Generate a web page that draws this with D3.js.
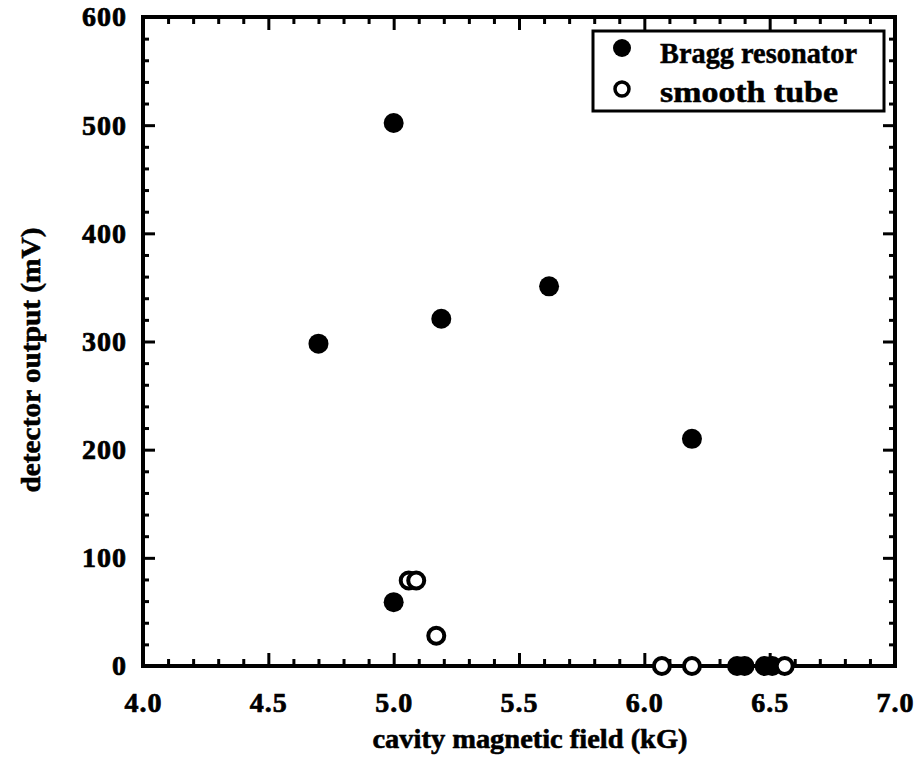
<!DOCTYPE html>
<html>
<head>
<meta charset="utf-8">
<script src="https://cdn.jsdelivr.net/npm/d3@7/dist/d3.min.js"></script>
<style>
  html, body { margin: 0; padding: 0; background: #fff; }
  svg { display: block; }
  text { font-family: "Liberation Serif", "Times New Roman", serif; font-weight: bold; fill: #000; }
</style>
</head>
<body>
<svg id="chart" width="920" height="773"></svg>
<script>
// ---- data ----
const braggX = [4.70, 5.00, 5.00, 5.19, 5.62, 6.19, 6.37, 6.40, 6.48, 6.51];
const braggY = [298, 502, 59, 321, 351, 210, 0, 0, 0, 0];
const smoothX = [5.06, 5.09, 5.17, 6.07, 6.19, 6.56];
const smoothY = [79, 79, 28, 0, 0, 0];
const xTicks = [4.0, 4.5, 5.0, 5.5, 6.0, 6.5, 7.0];
const yTicks = [0, 100, 200, 300, 400, 500, 600];
const seriesNames = ["Bragg resonator", "smooth tube"];
const xTitle = "cavity magnetic field (kG)";
const yTitle = "detector output (mV)";

// ---- layout ----
const svg = d3.select("#chart");
const L = 143, R = 895, T = 17, B = 666;
const x = d3.scaleLinear().domain([4, 7]).range([L, R]);
const y = d3.scaleLinear().domain([0, 600]).range([B, T]);

const xMinor = d3.range(40, 71).map(d => d / 10).filter(v => !xTicks.some(t => Math.abs(t - v) < 1e-9));
const yMinor = d3.range(0, 601, 20).filter(v => v % 100 !== 0);

function styleAxis(g, sw) {
  g.select(".domain").remove();
  g.selectAll(".tick line").attr("stroke", "#000").attr("stroke-width", sw);
}
const FONT = '"Liberation Serif", "Times New Roman", serif';

// bottom axis
const gb = svg.append("g").attr("transform", `translate(0,${B})`)
  .call(d3.axisBottom(x).tickValues(xTicks).tickFormat(d3.format(".1f")).tickSizeInner(-13).tickSizeOuter(0).tickPadding(26));
styleAxis(gb, 3);
gb.selectAll(".tick text").attr("font-size", 28).attr("stroke", "#000").attr("stroke-width", 0.7)
  .style("font-family", FONT).style("font-weight", "bold").style("letter-spacing", "1px");
svg.append("g").attr("transform", `translate(0,${B})`)
  .call(d3.axisBottom(x).tickValues(xMinor).tickFormat("").tickSizeInner(-7).tickSizeOuter(0))
  .call(g => styleAxis(g, 3));

// top axis
svg.append("g").attr("transform", `translate(0,${T})`)
  .call(d3.axisTop(x).tickValues(xTicks).tickFormat("").tickSizeInner(-13).tickSizeOuter(0))
  .call(g => styleAxis(g, 3));
svg.append("g").attr("transform", `translate(0,${T})`)
  .call(d3.axisTop(x).tickValues(xMinor).tickFormat("").tickSizeInner(-7).tickSizeOuter(0))
  .call(g => styleAxis(g, 3));

// left axis
const gl = svg.append("g").attr("transform", `translate(${L},0)`)
  .call(d3.axisLeft(y).tickValues(yTicks).tickFormat(d3.format("d")).tickSizeInner(-12).tickSizeOuter(0).tickPadding(16));
styleAxis(gl, 3);
gl.selectAll(".tick text").attr("font-size", 28).attr("stroke", "#000").attr("stroke-width", 0.7)
  .style("font-family", FONT).style("font-weight", "bold").style("letter-spacing", "1px");
svg.append("g").attr("transform", `translate(${L},0)`)
  .call(d3.axisLeft(y).tickValues(yMinor).tickFormat("").tickSizeInner(-6).tickSizeOuter(0))
  .call(g => styleAxis(g, 3));

// right axis
svg.append("g").attr("transform", `translate(${R},0)`)
  .call(d3.axisRight(y).tickValues(yTicks).tickFormat("").tickSizeInner(-12).tickSizeOuter(0))
  .call(g => styleAxis(g, 3));
svg.append("g").attr("transform", `translate(${R},0)`)
  .call(d3.axisRight(y).tickValues(yMinor).tickFormat("").tickSizeInner(-6).tickSizeOuter(0))
  .call(g => styleAxis(g, 3));

// frame
svg.append("rect").attr("x", L).attr("y", T).attr("width", R - L).attr("height", B - T)
  .attr("fill", "none").attr("stroke", "#000").attr("stroke-width", 4);

// points
const bragg = braggX.map((v, i) => ({ x: v, y: braggY[i] }));
const smooth = smoothX.map((v, i) => ({ x: v, y: smoothY[i] }));

svg.append("g").selectAll("circle").data(bragg).join("circle")
  .attr("cx", d => x(d.x)).attr("cy", d => y(d.y)).attr("r", 10).attr("fill", "#000");
svg.append("g").selectAll("circle").data(smooth).join("circle")
  .attr("cx", d => x(d.x)).attr("cy", d => y(d.y)).attr("r", 8)
  .attr("fill", "#fff").attr("stroke", "#000").attr("stroke-width", 4);

// legend
const lg = svg.append("g");
lg.append("rect").attr("x", 593).attr("y", 31).attr("width", 291).attr("height", 80)
  .attr("fill", "#fff").attr("stroke", "#000").attr("stroke-width", 3);
lg.append("circle").attr("cx", 622).attr("cy", 48).attr("r", 9).attr("fill", "#000");
lg.append("circle").attr("cx", 622).attr("cy", 89).attr("r", 7).attr("fill", "#fff")
  .attr("stroke", "#000").attr("stroke-width", 3.5);
lg.append("text").attr("x", 660).attr("y", 63).attr("font-size", 29).attr("stroke", "#000").attr("stroke-width", 0.5)
  .attr("textLength", 197).attr("lengthAdjust", "spacingAndGlyphs").text(seriesNames[0]);
lg.append("text").attr("x", 660).attr("y", 102).attr("font-size", 29).attr("stroke", "#000").attr("stroke-width", 0.5)
  .attr("textLength", 178).attr("lengthAdjust", "spacingAndGlyphs").text(seriesNames[1]);

// axis titles
svg.append("text").attr("x", 530).attr("y", 748).attr("text-anchor", "middle")
  .attr("font-size", 28).attr("stroke", "#000").attr("stroke-width", 0.6)
  .attr("textLength", 315).attr("lengthAdjust", "spacingAndGlyphs").text(xTitle);
svg.append("text").attr("transform", "translate(40,360) rotate(-90)").attr("text-anchor", "middle")
  .attr("font-size", 28).attr("stroke", "#000").attr("stroke-width", 0.6)
  .attr("textLength", 265).attr("lengthAdjust", "spacingAndGlyphs").text(yTitle);
</script>
</body>
</html>
